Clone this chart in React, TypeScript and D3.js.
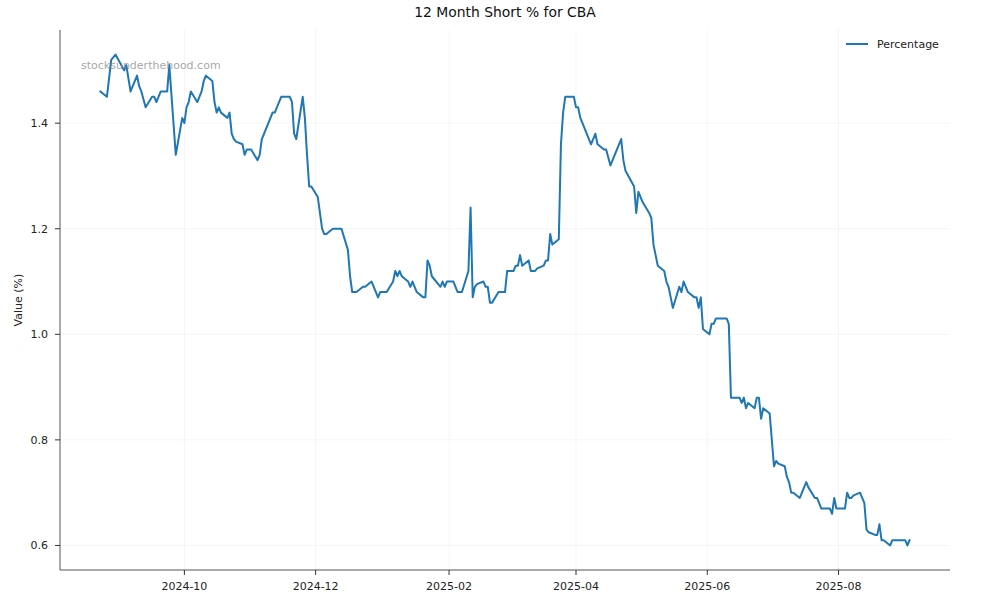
import React from "react";
import * as d3 from "d3";

const TITLE = "12 Month Short % for CBA";
const SERIES_NAME = "Percentage";
const Y_LABEL = "Value (%)";
const WATERMARK = "stocksunderthehood.com";

const dates: string[] = [
  "2024-08-23","2024-08-26","2024-08-28","2024-08-30","2024-09-03","2024-09-04","2024-09-06","2024-09-09","2024-09-10","2024-09-11",
  "2024-09-13","2024-09-16","2024-09-17","2024-09-18","2024-09-20","2024-09-23","2024-09-24","2024-09-27","2024-09-30","2024-10-01",
  "2024-10-02","2024-10-03","2024-10-04","2024-10-07","2024-10-09","2024-10-10","2024-10-11","2024-10-14","2024-10-15","2024-10-16",
  "2024-10-17","2024-10-18","2024-10-21","2024-10-22","2024-10-23","2024-10-24","2024-10-25","2024-10-28","2024-10-29","2024-10-30",
  "2024-11-01","2024-11-04","2024-11-05","2024-11-06","2024-11-11","2024-11-12","2024-11-13","2024-11-15","2024-11-19","2024-11-20",
  "2024-11-21","2024-11-22","2024-11-25","2024-11-26","2024-11-27","2024-11-28","2024-11-29","2024-12-02","2024-12-03","2024-12-04",
  "2024-12-05","2024-12-06","2024-12-09","2024-12-13","2024-12-16","2024-12-17","2024-12-18","2024-12-20","2024-12-23","2024-12-24",
  "2024-12-27","2024-12-30","2024-12-31","2025-01-03","2025-01-06","2025-01-07","2025-01-08","2025-01-09","2025-01-10","2025-01-13",
  "2025-01-14","2025-01-15","2025-01-17","2025-01-20","2025-01-21","2025-01-22","2025-01-23","2025-01-24","2025-01-28","2025-01-29",
  "2025-01-30","2025-01-31","2025-02-03","2025-02-04","2025-02-05","2025-02-07","2025-02-10","2025-02-11","2025-02-12","2025-02-13",
  "2025-02-14","2025-02-17","2025-02-18","2025-02-19","2025-02-20","2025-02-21","2025-02-24","2025-02-27","2025-02-28","2025-03-03",
  "2025-03-04","2025-03-05","2025-03-06","2025-03-07","2025-03-10","2025-03-11","2025-03-13","2025-03-14","2025-03-17","2025-03-18",
  "2025-03-19","2025-03-20","2025-03-21","2025-03-24","2025-03-25","2025-03-26","2025-03-27","2025-03-31","2025-04-01","2025-04-02",
  "2025-04-03","2025-04-04","2025-04-07","2025-04-08","2025-04-10","2025-04-11","2025-04-14","2025-04-15","2025-04-17","2025-04-22",
  "2025-04-23","2025-04-24","2025-04-28","2025-04-29","2025-04-30","2025-05-01","2025-05-02","2025-05-05","2025-05-06","2025-05-07",
  "2025-05-08","2025-05-09","2025-05-12","2025-05-13","2025-05-14","2025-05-15","2025-05-16","2025-05-19","2025-05-20","2025-05-21",
  "2025-05-22","2025-05-23","2025-05-26","2025-05-27","2025-05-28","2025-05-29","2025-05-30","2025-06-02","2025-06-03","2025-06-04",
  "2025-06-05","2025-06-06","2025-06-10","2025-06-11","2025-06-12","2025-06-13","2025-06-16","2025-06-17","2025-06-18","2025-06-19",
  "2025-06-20","2025-06-23","2025-06-24","2025-06-25","2025-06-26","2025-06-27","2025-06-30","2025-07-01","2025-07-02","2025-07-03",
  "2025-07-04","2025-07-07","2025-07-08","2025-07-09","2025-07-10","2025-07-11","2025-07-14","2025-07-15","2025-07-16","2025-07-17",
  "2025-07-18","2025-07-21","2025-07-22","2025-07-23","2025-07-24","2025-07-25","2025-07-28","2025-07-29","2025-07-30","2025-07-31",
  "2025-08-01","2025-08-04","2025-08-05","2025-08-06","2025-08-07","2025-08-08","2025-08-11","2025-08-12","2025-08-13","2025-08-14",
  "2025-08-15","2025-08-18","2025-08-19","2025-08-20","2025-08-21","2025-08-22","2025-08-25","2025-08-26","2025-08-27","2025-08-28",
  "2025-08-29","2025-09-01","2025-09-02","2025-09-03"
];

const percentages: number[] = [
  1.46,1.45,1.52,1.53,1.50,1.51,1.46,1.49,1.47,1.46,
  1.43,1.45,1.45,1.44,1.46,1.46,1.51,1.34,1.41,1.40,
  1.43,1.44,1.46,1.44,1.46,1.48,1.49,1.48,1.44,1.42,
  1.43,1.42,1.41,1.42,1.38,1.37,1.365,1.36,1.34,1.35,
  1.35,1.33,1.34,1.37,1.42,1.42,1.43,1.45,1.45,1.44,
  1.38,1.37,1.45,1.41,1.34,1.28,1.28,1.26,1.23,1.20,
  1.19,1.19,1.20,1.20,1.16,1.11,1.08,1.08,1.09,1.09,
  1.10,1.07,1.08,1.08,1.10,1.12,1.11,1.12,1.11,1.10,
  1.09,1.10,1.08,1.07,1.07,1.14,1.13,1.11,1.09,1.10,
  1.09,1.10,1.10,1.09,1.08,1.08,1.12,1.24,1.07,1.09,
  1.095,1.10,1.09,1.09,1.06,1.06,1.08,1.08,1.12,1.12,
  1.13,1.13,1.15,1.13,1.14,1.12,1.12,1.125,1.13,1.14,
  1.14,1.19,1.17,1.18,1.36,1.42,1.45,1.45,1.43,1.43,
  1.41,1.40,1.37,1.36,1.38,1.36,1.35,1.35,1.32,1.37,
  1.33,1.31,1.28,1.23,1.27,1.26,1.25,1.23,1.22,1.17,
  1.15,1.13,1.12,1.10,1.09,1.07,1.05,1.09,1.08,1.10,
  1.09,1.08,1.07,1.07,1.05,1.07,1.01,1.00,1.02,1.02,
  1.03,1.03,1.03,1.02,0.88,0.88,0.88,0.87,0.88,0.86,
  0.87,0.86,0.88,0.88,0.84,0.86,0.85,0.80,0.75,0.76,
  0.755,0.75,0.73,0.72,0.70,0.70,0.69,0.70,0.71,0.72,
  0.71,0.69,0.69,0.68,0.67,0.67,0.67,0.66,0.69,0.67,
  0.67,0.67,0.70,0.69,0.69,0.695,0.70,0.69,0.68,0.63,
  0.625,0.62,0.62,0.64,0.61,0.61,0.60,0.61,0.61,0.61,
  0.61,0.61,0.60,0.61
];

const yTicks: number[] = [0.6, 0.8, 1.0, 1.2, 1.4];

const WIDTH = 1000;
const HEIGHT = 600;
const M = { left: 60, right: 50, top: 30, bottom: 30 };
const FONT = "'DejaVu Sans', 'Liberation Sans', sans-serif";
const LINE_COLOR = "#1f77b4";

export default function App() {
  const parse = d3.utcParse("%Y-%m-%d");
  const points = dates.map((d, i) => ({ date: parse(d) as Date, value: percentages[i] }));

  const [x0, x1] = d3.extent(points, (p) => p.date) as [Date, Date];
  const xPad = (x1.getTime() - x0.getTime()) * 0.05;
  const [y0, y1] = d3.extent(points, (p) => p.value) as [number, number];
  const yPad = (y1 - y0) * 0.05;

  const x = d3
    .scaleUtc()
    .domain([new Date(x0.getTime() - xPad), new Date(x1.getTime() + xPad)])
    .range([M.left, WIDTH - M.right]);
  const y = d3
    .scaleLinear()
    .domain([y0 - yPad, y1 + yPad])
    .range([HEIGHT - M.bottom, M.top]);

  const xTicks = d3
    .utcMonth.range(x.domain()[0], x.domain()[1])
    .map((d) => d3.utcMonth.ceil(d))
    .filter((d, i, arr) => d.getUTCMonth() % 2 === 1 && arr.findIndex((e) => e.getTime() === d.getTime()) === i && d <= x.domain()[1]);
  const fmtX = d3.utcFormat("%Y-%m");
  const fmtY = d3.format(".1f");

  const line = d3
    .line<{ date: Date; value: number }>()
    .x((p) => x(p.date))
    .y((p) => y(p.value));

  const plotLeft = M.left;
  const plotRight = WIDTH - M.right;
  const plotTop = M.top;
  const plotBottom = HEIGHT - M.bottom;

  return (
    <svg
      width={WIDTH}
      height={HEIGHT}
      style={{ position: "absolute", left: 0, top: 0, background: "#fff" }}
      fontFamily={FONT}
    >
      <rect x={0} y={0} width={WIDTH} height={HEIGHT} fill="#fff" />
      {/* grid */}
      <g stroke="#f2f2f2" strokeWidth={0.8}>
        {xTicks.map((t) => (
          <line key={"gx" + t.getTime()} x1={x(t)} x2={x(t)} y1={plotTop} y2={plotBottom} />
        ))}
        {yTicks.map((t) => (
          <line key={"gy" + t} x1={plotLeft} x2={plotRight} y1={y(t)} y2={y(t)} />
        ))}
      </g>

      {/* data line */}
      <path d={line(points) || ""} fill="none" stroke={LINE_COLOR} strokeWidth={2} strokeLinejoin="round" strokeLinecap="square" />

      {/* watermark */}
      <text x={81} y={69} fontSize={11} fill="#888" fillOpacity={0.75}>
        {WATERMARK}
      </text>

      {/* spines */}
      <line x1={plotLeft} x2={plotLeft} y1={plotTop} y2={plotBottom} stroke="#555" strokeWidth={1} />
      <line x1={plotLeft} x2={plotRight} y1={plotBottom} y2={plotBottom} stroke="#555" strokeWidth={1} />

      {/* x ticks */}
      <g fontSize={11} fill="#222" textAnchor="middle">
        {xTicks.map((t) => (
          <g key={"xt" + t.getTime()}>
            <line x1={x(t)} x2={x(t)} y1={plotBottom} y2={plotBottom + 5} stroke="#333" strokeWidth={1} />
            <text x={x(t)} y={plotBottom + 20}>
              {fmtX(t)}
            </text>
          </g>
        ))}
      </g>

      {/* y ticks */}
      <g fontSize={11} fill="#222" textAnchor="end">
        {yTicks.map((t) => (
          <g key={"yt" + t}>
            <line x1={plotLeft - 5} x2={plotLeft} y1={y(t)} y2={y(t)} stroke="#333" strokeWidth={1} />
            <text x={plotLeft - 12} y={y(t)} dy="0.35em">
              {fmtY(t)}
            </text>
          </g>
        ))}
      </g>

      {/* y label */}
      <text
        transform={`translate(${22},${(plotTop + plotBottom) / 2}) rotate(-90)`}
        textAnchor="middle"
        fontSize={11}
        fill="#222"
      >
        {Y_LABEL}
      </text>

      {/* title */}
      <text x={(plotLeft + plotRight) / 2} y={17} textAnchor="middle" fontSize={13.9} fill="#111">
        {TITLE}
      </text>

      {/* legend */}
      <g>
        <line x1={846} x2={868} y1={44} y2={44} stroke={LINE_COLOR} strokeWidth={2} />
        <text x={877} y={44} dy="0.35em" fontSize={11} fill="#222">
          {SERIES_NAME}
        </text>
      </g>
    </svg>
  );
}
